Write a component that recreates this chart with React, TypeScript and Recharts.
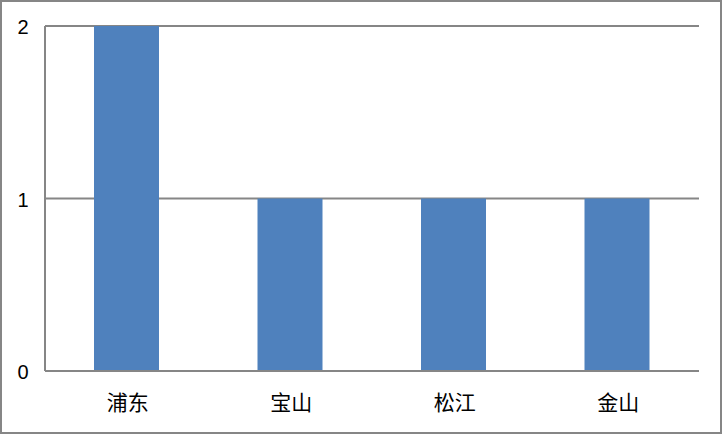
import React from "react";
import { BarChart, Bar, XAxis, YAxis, CartesianGrid } from "recharts";

const categories = ["浦东", "宝山", "松江", "金山"];
const values = [2, 1, 1, 1];
const yTicks = [0, 1, 2];

const data = categories.map((name, i) => ({ name, value: values[i] }));

const XTick = (props: any) => {
  const { x, y, payload } = props;
  return (
    <text x={x + 1} y={y + 22} textAnchor="middle" dominantBaseline="central"
      fontFamily="'Noto Sans CJK SC', sans-serif" fontSize={21} fill="#000">
      {payload.value}
    </text>
  );
};

const YTick = (props: any) => {
  const { y, payload } = props;
  return (
    <text x={21} y={y + 1} textAnchor="middle" dominantBaseline="central"
      fontFamily="'Liberation Sans', sans-serif" fontSize={20} fill="#000">
      {payload.value}
    </text>
  );
};

export default function App() {
  return (
    <div style={{ position: "absolute", left: 0, top: 0, width: 722, height: 434, boxSizing: "border-box", border: "2px solid #868686", background: "#fff" }}>
      <BarChart width={718} height={430} data={data} margin={{ top: 24, right: 21, left: 0, bottom: 0 }} barCategoryGap="30%">
        <CartesianGrid vertical={false} stroke="#868686" strokeWidth={2} />
        <XAxis dataKey="name" height={61} tickLine={false} axisLine={{ stroke: "#868686", strokeWidth: 2 }} tick={<XTick />} interval={0} />
        <YAxis width={43} domain={[0, 2]} ticks={yTicks} tickLine={false} axisLine={{ stroke: "#868686", strokeWidth: 2 }} tick={<YTick />} />
        <Bar dataKey="value" fill="#4F81BD" barSize={65} isAnimationActive={false} />
      </BarChart>
    </div>
  );
}
